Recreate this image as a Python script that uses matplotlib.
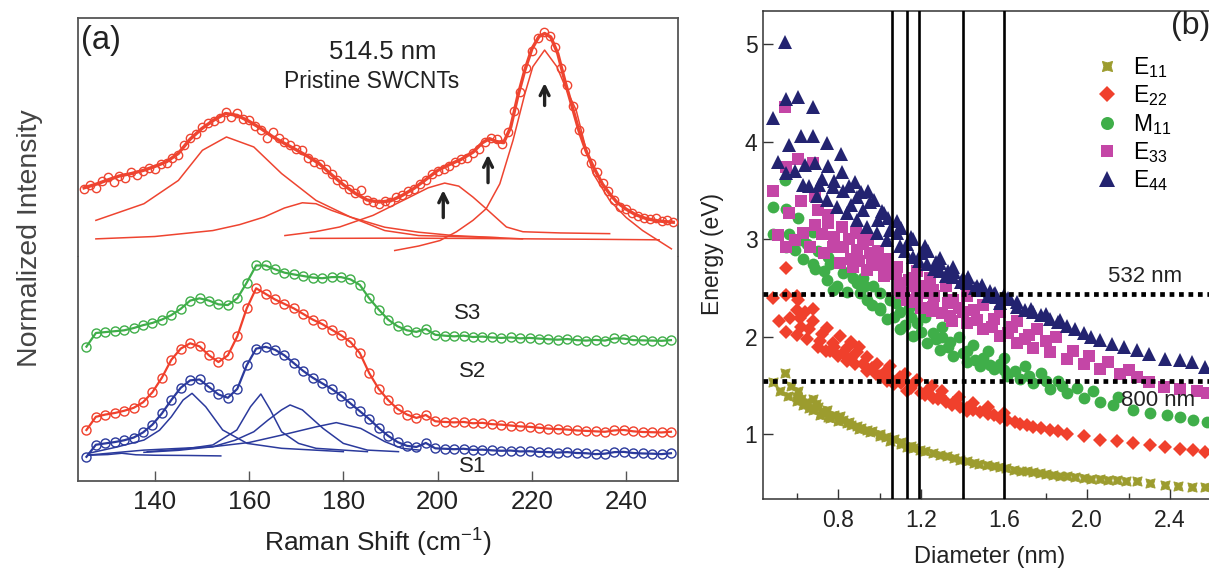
import numpy as np
import matplotlib
matplotlib.use("Agg")
import matplotlib.pyplot as plt

plt.rcParams['font.family'] = ['Liberation Sans', 'DejaVu Sans']
plt.rcParams['mathtext.fontset'] = 'custom'
plt.rcParams['mathtext.rm'] = 'Liberation Sans'
plt.rcParams['mathtext.it'] = 'Liberation Sans:italic'

# ---------------- panel (a): pristine SWCNTs, 514.5 nm ----------------
pr_x = [125.0, 126.25, 127.5, 128.75, 130.0, 131.25, 132.5, 133.75, 135.0, 136.25,
        137.5, 138.75, 140.0, 141.25, 142.5, 143.75, 145.0, 146.25, 147.5, 148.75,
        150.0, 151.25, 152.5, 153.75, 155.0, 156.25, 157.5, 158.75, 160.0, 161.25,
        162.5, 163.75, 165.0, 166.25, 167.5, 168.75, 170.0, 171.25, 172.5, 173.75,
        175.0, 176.25, 177.5, 178.75, 180.0, 181.25, 182.5, 183.75, 185.0, 186.25,
        187.5, 188.75, 190.0, 191.25, 192.5, 193.75, 195.0, 196.25, 197.5, 198.75,
        200.0, 201.25, 202.5, 203.75, 205.0, 206.25, 207.5, 208.75, 210.0, 211.25,
        212.5, 213.75, 215.0, 216.25, 217.5, 218.75, 220.0, 221.25, 222.5, 223.75,
        225.0, 226.25, 227.5, 228.75, 230.0, 231.25, 232.5, 233.75, 235.0, 236.25,
        237.5, 238.75, 240.0, 241.25, 242.5, 243.75, 245.0, 246.25, 247.5, 248.75, 250.0]
pr_y = [0.28, 0.295, 0.285, 0.315, 0.33, 0.31, 0.335, 0.325, 0.35, 0.34,
        0.355, 0.37, 0.365, 0.385, 0.39, 0.41, 0.425, 0.465, 0.495, 0.51,
        0.54, 0.56, 0.565, 0.58, 0.605, 0.585, 0.6, 0.575, 0.57, 0.545,
        0.53, 0.495, 0.52, 0.495, 0.48, 0.465, 0.45, 0.445, 0.41, 0.395,
        0.385, 0.365, 0.345, 0.32, 0.3, 0.28, 0.265, 0.275, 0.235, 0.225,
        0.218, 0.23, 0.225, 0.245, 0.255, 0.27, 0.28, 0.3, 0.32, 0.345,
        0.355, 0.365, 0.375, 0.395, 0.405, 0.41, 0.43, 0.45, 0.48, 0.495,
        0.49, 0.47, 0.52, 0.61, 0.69, 0.79, 0.86, 0.915, 0.94, 0.925,
        0.88, 0.79, 0.72, 0.63, 0.53, 0.44, 0.39, 0.35, 0.305, 0.27,
        0.235, 0.205, 0.195, 0.18, 0.165, 0.16, 0.155, 0.158, 0.145, 0.15, 0.143]

fit_x = [125, 127.5, 130, 132.5, 135, 137.5, 140, 142.5, 145, 147.5, 150, 152.5, 155,
         157.5, 160, 162.5, 165, 167.5, 170, 172.5, 175, 177.5, 180, 182.5, 185, 187.5,
         190, 192.5, 195, 197.5, 200, 202.5, 205, 207.5, 209.5, 211, 212.5, 214, 215.5,
         217, 218.5, 220, 221.5, 222.7, 224, 225.5, 227, 228.5, 230, 231.5, 233, 235,
         236.5, 238, 240, 242, 244.3, 247, 250]
fit_y = [0.285, 0.3, 0.318, 0.335, 0.345, 0.358, 0.375, 0.395, 0.43, 0.49, 0.535, 0.57, 0.598,
         0.59, 0.565, 0.535, 0.5, 0.472, 0.445, 0.417, 0.385, 0.34, 0.298, 0.262, 0.234, 0.225,
         0.23, 0.253, 0.283, 0.32, 0.358, 0.383, 0.405, 0.435, 0.475, 0.492, 0.48, 0.475, 0.54,
         0.67, 0.78, 0.87, 0.922, 0.935, 0.92, 0.85, 0.735, 0.63, 0.525, 0.44, 0.375, 0.3,
         0.26, 0.225, 0.195, 0.172, 0.155, 0.145, 0.14]

# fitted components
c1_x = [127.5, 137.7, 145.0, 150.1, 155.2, 161.0, 166.9, 174.2, 181.5, 188.8, 196.0, 203.4, 218.0]
c1_y = [0.148, 0.218, 0.316, 0.443, 0.499, 0.457, 0.345, 0.232, 0.162, 0.119, 0.098, 0.084, 0.07]
c2_x = [127.5, 140.0, 152.3, 158.0, 163.2, 167.5, 171.3, 174.2, 177.5, 181.5, 188.8, 196.0, 212.9]
c2_y = [0.07, 0.08, 0.105, 0.13, 0.162, 0.2, 0.222, 0.218, 0.19, 0.162, 0.105, 0.084, 0.075]
c3_x = [167.6, 174.0, 179.2, 186.3, 193.4, 198.0, 201.5, 204.5, 207.5, 210.3, 214.6, 218.1, 226.0, 236.5]
c3_y = [0.084, 0.1, 0.12, 0.169, 0.239, 0.285, 0.305, 0.292, 0.246, 0.197, 0.12, 0.1, 0.095, 0.092]
c4_x = [173.0, 190.0, 205.0, 220.0, 235.0, 247.0]
c4_y = [0.072, 0.073, 0.072, 0.07, 0.068, 0.066]
c5_x = [190.9, 196.0, 200.5, 204.0, 207.5, 210.3, 213.2, 216.0, 218.5, 220.2, 222.7,
        225.3, 227.3, 229.4, 231.2, 233.0, 236.5, 240.0, 243.5, 249.6]
c5_y = [0.021, 0.04, 0.063, 0.1, 0.148, 0.197, 0.302, 0.485, 0.68, 0.795, 0.865,
        0.795, 0.7, 0.612, 0.47, 0.345, 0.232, 0.16, 0.105, 0.028]

arrow_x = [201.2, 210.7, 222.7]
arrow_tail = [0.148, 0.295, 0.62]
arrow_head = [0.287, 0.436, 0.738]

# ---------------- panel (a): S1, S2, S3 ----------------
s_x = [125.5, 127.5, 129.5, 131.5, 133.5, 135.5, 137.5, 139.5, 141.5, 143.5, 145.5,
       147.5, 149.5, 151.5, 153.5, 155.5, 157.5, 159.5, 161.5, 163.5, 165.5, 167.5,
       169.5, 171.5, 173.5, 175.5, 177.5, 179.5, 181.5, 183.5, 185.5, 187.5, 189.5,
       191.5, 193.5, 195.5, 197.5, 199.5, 201.5, 203.5, 205.5, 207.5, 209.5, 211.5,
       213.5, 215.5, 217.5, 219.5, 221.5, 223.5, 225.5, 227.5, 229.5, 231.5, 233.5,
       235.5, 237.5, 239.5, 241.5, 243.5, 245.5, 247.5, 249.5]
s3_y = [0.599, 0.66, 0.664, 0.668, 0.672, 0.682, 0.695, 0.705, 0.72, 0.74, 0.768,
        0.805, 0.815, 0.805, 0.788, 0.785, 0.815, 0.885, 0.962, 0.962, 0.945, 0.93,
        0.922, 0.915, 0.908, 0.905, 0.91, 0.91, 0.9, 0.875, 0.815, 0.765, 0.72,
        0.69, 0.672, 0.665, 0.678, 0.652, 0.648, 0.645, 0.648, 0.642, 0.644, 0.64,
        0.638, 0.64, 0.636, 0.638, 0.635, 0.632, 0.63, 0.633, 0.628, 0.626, 0.629,
        0.626, 0.636, 0.635, 0.628, 0.627, 0.626, 0.625, 0.628]
s2_y = [0.226, 0.285, 0.295, 0.302, 0.312, 0.325, 0.35, 0.395, 0.46, 0.54, 0.59,
        0.614, 0.6, 0.56, 0.53, 0.56, 0.645, 0.77, 0.86, 0.835, 0.81, 0.79,
        0.77, 0.745, 0.72, 0.7, 0.675, 0.65, 0.62, 0.57, 0.48, 0.41, 0.36,
        0.32, 0.295, 0.28, 0.293, 0.265, 0.262, 0.26, 0.262, 0.256, 0.258, 0.252,
        0.25, 0.246, 0.242, 0.24, 0.236, 0.232, 0.23, 0.228, 0.224, 0.222, 0.22,
        0.218, 0.224, 0.226, 0.22, 0.217, 0.216, 0.215, 0.218]
s1_y = [0.106, 0.16, 0.166, 0.172, 0.18, 0.192, 0.215, 0.25, 0.3, 0.36, 0.415,
        0.448, 0.452, 0.418, 0.385, 0.37, 0.41, 0.515, 0.59, 0.598, 0.585, 0.56,
        0.525, 0.49, 0.46, 0.435, 0.41, 0.38, 0.345, 0.31, 0.275, 0.235, 0.2,
        0.172, 0.155, 0.15, 0.168, 0.144, 0.142, 0.14, 0.142, 0.137, 0.138, 0.135,
        0.133, 0.134, 0.13, 0.131, 0.128, 0.127, 0.125, 0.127, 0.123, 0.122, 0.118,
        0.12, 0.127, 0.128, 0.123, 0.121, 0.12, 0.118, 0.122]

b0_x = [126.0, 130.0, 133.0, 136.0, 140.0, 147.0, 154.0]
b0_y = [0.113, 0.116, 0.122, 0.115, 0.113, 0.112, 0.11]
b1_x = [126.0, 132.0, 137.7, 141.0, 143.5, 146.0, 147.9, 150.8, 154.4, 159.6, 166.9, 180.0]
b1_y = [0.122, 0.15, 0.181, 0.225, 0.285, 0.36, 0.39, 0.33, 0.226, 0.166, 0.144, 0.129]
b2_x = [138.4, 146.0, 152.3, 157.4, 160.3, 162.5, 164.5, 166.9, 170.5, 174.2, 185.1]
b2_y = [0.129, 0.14, 0.159, 0.226, 0.33, 0.387, 0.316, 0.218, 0.166, 0.144, 0.129]
b3_x = [137.7, 145.0, 152.3, 157.0, 161.0, 164.0, 166.9, 168.7, 171.3, 175.7, 180.0, 185.1, 191.7]
b3_y = [0.126, 0.135, 0.151, 0.18, 0.218, 0.27, 0.316, 0.338, 0.316, 0.233, 0.166, 0.136, 0.129]
b4_x = [126.0, 137.7, 152.3, 160.0, 166.9, 174.2, 178.5, 183.7, 188.8, 192.4, 196.1]
b4_y = [0.114, 0.136, 0.151, 0.17, 0.203, 0.24, 0.259, 0.233, 0.174, 0.144, 0.136]

# ---------------- panel (b): Kataura plot ----------------
e11_d = [0.486, 0.518, 0.543, 0.559, 0.598, 0.607, 0.631, 0.65, 0.679, 0.679, 0.70, 0.712,
         0.73, 0.744, 0.76, 0.78, 0.808, 0.82, 0.84, 0.86, 0.889, 0.91, 0.937, 0.96,
         1.002, 1.03, 1.066, 1.10, 1.13, 1.16, 1.195, 1.22, 1.258, 1.29, 1.323, 1.36,
         1.387, 1.42, 1.452, 1.48, 1.517, 1.55, 1.58, 1.61, 1.645, 1.68, 1.71, 1.74,
         1.774, 1.80, 1.838, 1.87, 1.902, 1.94, 1.983, 2.02, 2.063, 2.10, 2.143, 2.19,
         2.24, 2.304, 2.377, 2.44, 2.506, 2.57,
         0.57, 0.60, 0.62, 0.66, 0.69, 0.72, 0.75, 0.80, 0.85, 0.90, 0.95, 1.0, 1.05, 1.10, 1.15]
e11_e = [1.54, 1.44, 1.63, 1.39, 1.34, 1.44, 1.30, 1.33, 1.36, 1.25, 1.28, 1.20,
         1.22, 1.25, 1.17, 1.20, 1.19, 1.15, 1.12, 1.10, 1.09, 1.07, 1.05, 1.03,
         1.0, 0.97, 0.95, 0.92, 0.87, 0.86, 0.84, 0.83, 0.81, 0.79, 0.78, 0.76,
         0.74, 0.73, 0.71, 0.70, 0.69, 0.68, 0.67, 0.66, 0.64, 0.63, 0.62, 0.61,
         0.60, 0.59, 0.58, 0.575, 0.57, 0.56, 0.55, 0.545, 0.54, 0.535, 0.53, 0.525,
         0.52, 0.50, 0.48, 0.47, 0.46, 0.46,
         1.50, 1.38, 1.36, 1.27, 1.31, 1.24, 1.18, 1.14, 1.13, 1.06, 1.02, 0.98, 0.93, 0.90, 0.88]

e22_d = [0.486, 0.548, 0.548, 0.598, 0.607, 0.679, 0.512, 0.567, 0.615, 0.679, 0.744,
         0.548, 0.598, 0.647, 0.712, 0.776, 0.808, 0.84, 0.889, 0.937, 0.985, 1.034,
         1.098, 1.162, 1.227, 1.291, 1.355, 1.42, 1.485, 1.55, 1.613, 1.677, 1.741,
         1.822, 1.902, 1.983, 2.063, 2.143, 2.224, 2.304, 2.377, 2.449, 2.513, 2.57,
         0.84, 0.937, 1.034, 1.13, 1.258, 1.387, 0.76, 0.80, 0.88, 0.98, 1.07, 1.20,
         1.32, 0.72, 0.86, 0.90, 1.45, 1.52, 1.58, 1.65, 1.71, 1.78, 1.86,
         0.70, 0.74, 0.78, 0.82, 0.86, 0.92, 0.96, 1.00, 1.05, 1.10, 1.15, 1.22, 1.28, 1.35,
         1.42, 1.05, 1.12, 1.18, 1.25, 1.30, 1.38, 1.45, 1.52, 1.60, 0.62, 0.66, 0.60, 0.64]
e22_e = [2.40, 2.43, 2.71, 2.42, 2.38, 2.29, 2.16, 2.19, 2.19, 2.16, 2.09,
         2.05, 2.02, 1.98, 1.96, 1.94, 2.01, 1.89, 1.84, 1.79, 1.72, 1.66,
         1.59, 1.52, 1.45, 1.39, 1.32, 1.27, 1.23, 1.20, 1.15, 1.11, 1.08,
         1.05, 1.0, 0.98, 0.94, 0.93, 0.91, 0.89, 0.87, 0.85, 0.84, 0.82,
         1.75, 1.65, 1.55, 1.45, 1.37, 1.28, 1.86, 1.80, 1.72, 1.62, 1.52, 1.42,
         1.33, 2.03, 1.95, 1.90, 1.25, 1.21, 1.17, 1.13, 1.10, 1.07, 1.03,
         1.90, 1.85, 1.90, 1.83, 1.78, 1.72, 1.68, 1.60, 1.58, 1.53, 1.48, 1.40, 1.36, 1.30,
         1.24, 1.70, 1.62, 1.56, 1.50, 1.45, 1.38, 1.32, 1.28, 1.22, 2.10, 2.08, 2.28, 2.25]

m11_d = [0.543, 0.486, 0.548, 0.607, 0.486, 0.563, 0.615, 0.679, 0.548, 0.59, 0.631,
         0.679, 0.728, 0.688, 0.744, 0.792, 0.752, 0.808, 0.857, 0.889, 0.84, 0.776,
         0.905, 0.937, 1.002, 1.034, 1.098, 1.162, 1.227, 1.291, 1.355, 1.42, 1.485,
         1.55, 1.613, 1.677, 1.741, 1.822, 1.902, 1.983, 2.063, 2.127, 2.224, 2.304,
         2.385, 2.449, 2.513, 2.578, 0.969, 1.05, 1.098, 1.18, 1.258, 1.34, 1.42,
         1.50, 1.58, 0.92, 1.0, 1.15, 1.30, 1.65, 1.72, 1.80, 1.88,
         0.65, 0.70, 0.76, 0.82, 0.87, 0.93, 0.96, 1.00, 1.07, 1.12, 1.20, 1.27, 1.33, 1.40,
         1.46, 1.53, 1.60, 1.08, 1.14, 1.22, 1.30, 1.38, 1.45, 1.52, 1.60, 1.70, 1.78, 1.86,
         1.95, 2.03, 2.15]
m11_e = [3.61, 3.33, 3.31, 3.22, 3.05, 3.05, 2.99, 3.07, 2.92, 2.89, 2.80,
         2.75, 2.68, 2.70, 2.58, 2.52, 2.82, 2.76, 2.67, 2.55, 2.46, 2.48,
         2.45, 2.38, 2.28, 2.18, 2.08, 2.01, 1.94, 1.87, 1.80, 1.74, 1.70,
         1.67, 1.60, 1.57, 1.53, 1.47, 1.42, 1.37, 1.33, 1.30, 1.25, 1.22,
         1.20, 1.18, 1.15, 1.13, 2.52, 2.38, 2.25, 2.14, 2.04, 1.95, 1.85,
         1.78, 1.72, 2.60, 2.45, 2.20, 2.00, 1.65, 1.60, 1.55, 1.50,
         2.95, 2.88, 2.75, 2.65, 2.60, 2.52, 2.33, 2.30, 2.20, 2.12, 2.05, 1.98, 1.90, 1.83,
         1.76, 1.71, 1.66, 2.35, 2.30, 2.20, 2.10, 2.00, 1.92, 1.85, 1.78, 1.70, 1.63, 1.55,
         1.48, 1.44, 1.38]

e33_d = [0.543, 0.486, 0.548, 0.607, 0.679, 0.51, 0.563, 0.618, 0.688, 0.548, 0.591,
         0.631, 0.688, 0.752, 0.816, 0.884, 0.945, 1.01, 1.082, 0.663, 0.728, 0.776,
         0.824, 0.889, 0.953, 0.808, 0.872, 0.937, 1.018, 1.098, 1.162, 1.227, 1.098,
         1.178, 1.258, 1.339, 1.42, 1.50, 1.58, 1.661, 1.741, 1.822, 1.902, 1.983,
         2.063, 2.16, 2.24, 2.30, 2.37, 2.449, 2.53, 2.578, 1.16, 1.258, 1.355,
         1.452, 1.549, 1.64, 1.72, 1.80, 1.05, 0.98, 1.13, 1.20, 1.30, 1.38,
         0.70, 0.75, 0.72, 0.78, 0.85, 0.92, 0.99, 1.04, 0.86, 0.90, 0.96, 1.02, 1.08, 1.14,
         1.20, 1.26, 1.33, 1.40, 1.47, 1.54, 1.62, 1.70, 1.18, 1.24, 1.32, 1.42, 1.50, 1.58,
         1.66, 1.76, 1.85, 1.93, 2.01, 2.10, 2.20, 1.10, 1.16, 1.25, 1.35]
e33_e = [4.36, 3.49, 3.74, 3.82, 3.78, 3.04, 3.27, 3.39, 3.44, 2.92, 2.99,
         3.06, 3.15, 3.17, 3.13, 3.06, 2.99, 2.79, 2.72, 2.92, 2.86, 2.92,
         2.92, 2.89, 2.86, 2.76, 2.72, 2.69, 2.62, 2.55, 2.52, 2.45, 2.48,
         2.41, 2.31, 2.21, 2.14, 2.08, 2.01, 1.94, 1.89, 1.84, 1.77, 1.72,
         1.67, 1.62, 1.59, 1.54, 1.49, 1.47, 1.44, 1.42, 2.60, 2.48, 2.38,
         2.28, 2.18, 2.10, 2.02, 1.96, 2.68, 2.75, 2.38, 2.30, 2.24, 2.30,
         3.30, 3.25, 3.05, 3.02, 3.00, 2.95, 2.88, 2.80, 2.80, 2.78, 2.74, 2.70, 2.64, 2.58,
         2.52, 2.42, 2.35, 2.25, 2.17, 2.10, 2.04, 1.98, 2.68, 2.60, 2.52, 2.42, 2.33, 2.25,
         2.16, 2.08, 2.00, 1.85, 1.80, 1.74, 1.66, 2.45, 2.36, 2.26, 2.16]

e44_d = [0.543, 0.486, 0.548, 0.604, 0.679, 0.563, 0.618, 0.679, 0.744, 0.813, 0.508,
         0.548, 0.59, 0.639, 0.688, 0.752, 0.819, 0.881, 0.945, 1.01, 1.082, 1.151,
         1.218, 1.291, 1.355, 1.427, 1.492, 1.556, 1.62, 0.631, 0.66, 0.707, 0.773,
         0.824, 0.889, 0.953, 1.018, 1.082, 0.696, 0.744, 0.792, 0.839, 0.889, 0.937,
         0.985, 1.034, 1.098, 1.162, 1.227, 1.291, 1.355, 1.42, 1.485, 1.55, 1.63,
         1.661, 1.741, 1.822, 1.902, 1.983, 2.063, 2.176, 2.24, 2.30, 2.377, 2.449,
         2.506, 2.57, 1.12, 1.19, 1.26, 1.32, 1.39, 1.46, 1.52, 1.58, 1.70, 1.78,
         1.86, 1.94, 2.02, 2.12,
         0.72, 0.78, 0.85, 0.91, 0.97, 1.04, 1.10, 1.16, 1.23, 1.29, 1.36, 1.42, 1.49, 1.56,
         0.86, 0.92, 0.99, 1.05, 1.13, 1.20, 1.27, 1.33, 1.40, 1.47, 1.53, 1.60, 1.66, 1.73,
         1.80, 1.87]
e44_e = [5.02, 4.24, 4.44, 4.46, 4.36, 3.97, 4.06, 4.06, 3.99, 3.87, 3.79,
         3.68, 3.70, 3.76, 3.78, 3.75, 3.69, 3.59, 3.49, 3.29, 3.19, 3.02,
         2.93, 2.81, 2.72, 2.61, 2.53, 2.45, 2.40, 3.56, 3.55, 3.56, 3.54,
         3.50, 3.43, 3.38, 3.27, 3.06, 3.44, 3.40, 3.33, 3.27, 3.20, 3.13,
         3.06, 2.99, 2.93, 2.82, 2.75, 2.68, 2.61, 2.55, 2.48, 2.44, 2.39,
         2.31, 2.25, 2.18, 2.11, 2.04, 1.97, 1.90, 1.87, 1.82, 1.77, 1.76,
         1.74, 1.69, 2.88, 2.78, 2.70, 2.62, 2.56, 2.50, 2.42, 2.35, 2.28, 2.22,
         2.15, 2.08, 2.00, 1.93,
         3.62, 3.60, 3.55, 3.48, 3.40, 3.22, 3.12, 3.00, 2.88, 2.76, 2.66, 2.58, 2.50, 2.41,
         3.35, 3.30, 3.20, 3.10, 2.95, 2.86, 2.77, 2.68, 2.60, 2.52, 2.47, 2.43, 2.36, 2.29,
         2.23, 2.17]

laser_e = [2.44, 1.552]
laser_names = ['532 nm', '800 nm']
diam_lines = [1.06, 1.13, 1.19, 1.40, 1.60]

W, H = 1209, 569
fig = plt.figure(figsize=(W / 100, H / 100), dpi=100)

def box(x0, y0, x1, y1):
    return [x0 / W, 1 - y1 / H, (x1 - x0) / W, (y1 - y0) / H]

red = '#ee4430'
gray = '#555555'

# upper part of (a)
ax_u = fig.add_axes(box(77.5, 18, 678, 255.5))
ax_u.plot(pr_x, pr_y, 'o', mfc='none', mec=red, ms=6, mew=1.0, zorder=3)
ax_u.plot(fit_x, fit_y, '-', color=red, lw=2.4, zorder=4)
for cx, cy in [(c1_x, c1_y), (c2_x, c2_y), (c3_x, c3_y), (c4_x, c4_y), (c5_x, c5_y)]:
    ax_u.plot(cx, cy, '-', color=red, lw=1.1, zorder=2)
for xa, t, h in zip(arrow_x, arrow_tail, arrow_head):
    ax_u.annotate('', xy=(xa, h), xytext=(xa, t),
                  arrowprops=dict(arrowstyle='->', color='#222222', lw=2.4, mutation_scale=16))
ax_u.set_xlim(123.6, 251.0)
ax_u.set_ylim(0, 1)
ax_u.set_xticks([])
ax_u.set_yticks([])
ax_u.spines['bottom'].set_visible(False)
for s in ['top', 'left', 'right']:
    ax_u.spines[s].set_color(gray)
    ax_u.spines[s].set_linewidth(1.3)
ax_u.patch.set_alpha(0)
fig.text(100.7 / W, 1 - 40 / H, '(a)', fontsize=23.5, ha='center', va='center', color='#222222')
fig.text(383 / W, 1 - 51.7 / H, '514.5 nm', fontsize=18.5, ha='center', va='center', color='#222222')
fig.text(372 / W, 1 - 81.7 / H, 'Pristine SWCNTs', fontsize=16.5, ha='center', va='center',
         color='#222222')

# lower part of (a)
ax_l = fig.add_axes(box(77.5, 257, 678, 480.5))
blue = '#2b3a9c'
green = '#3fae49'
red2 = '#f0402c'
for cx, cy in [(b0_x, b0_y), (b1_x, b1_y), (b2_x, b2_y), (b3_x, b3_y), (b4_x, b4_y)]:
    ax_l.plot(cx, cy, '-', color=blue, lw=1.1, zorder=2)
for yy, col in [(s3_y, green), (s2_y, red2), (s1_y, blue)]:
    ax_l.plot(s_x, yy, '-', color=col, lw=1.6, zorder=3)
    ax_l.plot(s_x, yy, 'o', mfc='none', mec=col, ms=6.5, mew=1.0, zorder=3)
ax_l.set_xlim(123.6, 251.0)
ax_l.set_ylim(0, 1)
ax_l.set_yticks([])
ax_l.set_xticks([140, 160, 180, 200, 220, 240])
ax_l.tick_params(axis='x', direction='in', length=7, width=1.0, color=gray,
                 labelsize=18.5, pad=7, labelcolor='#222222')
ax_l.spines['top'].set_visible(False)
for s in ['bottom', 'left', 'right']:
    ax_l.spines[s].set_color(gray)
    ax_l.spines[s].set_linewidth(1.3)
ax_l.patch.set_alpha(0)
for lab, (px, py) in zip(['S3', 'S2', 'S1'], [(467.6, 313.3), (472.7, 371.7), (472.3, 466.0)]):
    fig.text(px / W, 1 - py / H, lab, fontsize=16, ha='center', va='center', color='#222222')

fig.text(30 / W, 1 - 238 / H, 'Normalized Intensity', rotation=90, fontsize=20.5,
         ha='center', va='center', color='#444444')
fig.text(378 / W, 1 - 543 / H, 'Raman Shift (cm$^{-1}$)', fontsize=19,
         ha='center', va='center', color='#222222')

# panel (b)
ax_b = fig.add_axes(box(763, 11, 763 + (2.70 - 0.436) * 207.2, 499.3))
olive = '#9c9c2e'
magenta = '#c446a6'
navy = '#232370'
h11, = ax_b.plot(e11_d, e11_e, ls='none', marker=(4, 1, 45), color=olive, ms=9.5, mew=0.6)
h22, = ax_b.plot(e22_d, e22_e, ls='none', marker='D', color=red2, ms=7.5, mew=0)
hm11, = ax_b.plot(m11_d, m11_e, ls='none', marker='o', color=green, ms=8.5, mew=0)
h33, = ax_b.plot(e33_d, e33_e, ls='none', marker='s', color=magenta, ms=8.0, mew=0)
h44, = ax_b.plot(e44_d, e44_e, ls='none', marker='^', color=navy, ms=10.5, mew=0)
for dl in diam_lines:
    ax_b.axvline(dl, color='black', lw=1.9, zorder=5)
for le in laser_e:
    ax_b.axhline(le, color='black', lw=3.4, ls=(0, (1, 1)), zorder=6)
ax_b.text(2.28, 2.62, laser_names[0], fontsize=16, ha='center', va='center', color='#222222')
ax_b.text(2.344, 1.35, laser_names[1], fontsize=16, ha='center', va='center', color='#222222')
ax_b.text(2.50, 5.19, '(b)', fontsize=23, ha='center', va='center', color='#222222')
ax_b.set_xlim(0.436, 2.70)
ax_b.set_ylim(0.335, 5.34)
ax_b.set_xticks([0.8, 1.2, 1.6, 2.0, 2.4])
ax_b.set_xticklabels(['0.8', '1.2', '1.6', '2.0', '2.4'])
ax_b.set_xticks([0.6, 1.0, 1.4, 1.8, 2.2, 2.6], minor=True)
ax_b.set_yticks([1, 2, 3, 4, 5])
ax_b.tick_params(axis='both', which='major', direction='in', length=7, width=1.0,
                 labelsize=16.5, color='#333333', labelcolor='#222222')
ax_b.tick_params(axis='x', which='major', pad=7)
ax_b.tick_params(axis='y', which='major', pad=4)
ax_b.tick_params(axis='x', which='minor', direction='in', length=4, width=1.0, color='#333333')
ax_b.spines['right'].set_visible(False)
for s in ['top', 'left', 'bottom']:
    ax_b.spines[s].set_color('#333333')
    ax_b.spines[s].set_linewidth(1.1)
fig.text(712 / W, 1 - 254 / H, 'Energy (eV)', rotation=90, fontsize=16.5,
         ha='center', va='center', color='#222222')
fig.text(990 / W, 1 - 556.7 / H, 'Diameter (nm)', fontsize=17,
         ha='center', va='center', color='#222222')

fig.legend([h11, h22, hm11, h33, h44],
           ['E$_{11}$', 'E$_{22}$', 'M$_{11}$', 'E$_{33}$', 'E$_{44}$'],
           loc='upper left', bbox_to_anchor=(1096 / W, 1 - 55 / H), frameon=False,
           fontsize=16.5, handlelength=1.0, handletextpad=0.6, labelspacing=0.15,
           borderpad=0, borderaxespad=0, markerscale=1.1)

fig.savefig('out.png', dpi=100)
